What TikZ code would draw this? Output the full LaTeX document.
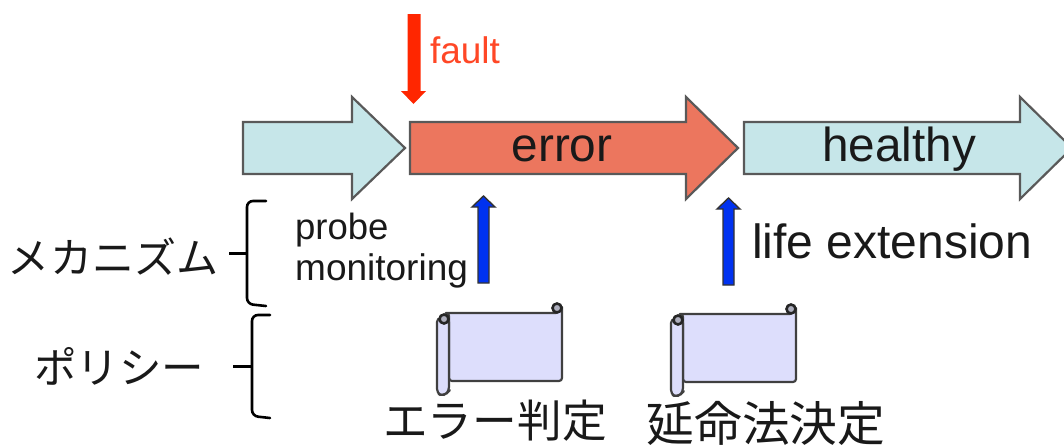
\documentclass[tikz,border=0pt]{standalone}
\usepackage{fontspec}
\setmainfont{Liberation Sans}
\newfontfamily\cjk{Noto Sans CJK JP}
\definecolor{paleblue}{RGB}{198,230,233}
\definecolor{errred}{RGB}{236,118,94}
\definecolor{scroll}{RGB}{221,222,252}
\definecolor{fltred}{RGB}{255,38,0}
\definecolor{probeblue}{RGB}{0,50,240}
\tikzset{
  bigarrow/.style={draw=black!65,line width=2.2pt,line join=miter},
  lab/.style={inner sep=0pt,anchor=base,text=black!90},
  jp/.style={inner sep=0pt,anchor=base,text=black!90},
  brace/.style={draw=black,line width=2.6pt,line cap=round,rounded corners=6pt},
  scrollline/.style={draw=black!75,line width=2.2pt,fill=scroll,line join=round},
}
\newcommand{\scrollshape}[2]{%
  \begin{scope}[shift={(#1,#2)}]
    \draw[scrollline] (0,0) -- (112,0) -- (112,-6) -- (118,-6) -- (118,0) -- (118,62) [rounded corners=3pt] -- (118,68) -- (5,68) -- (5,0) -- cycle;
    \draw[scrollline,rounded corners=4pt] (-7,5) -- (-7,80) -- (-2,83) -- (3,80) -- (5,78) -- (5,5) -- cycle;
    \draw[draw=black!85,fill=scroll!50!gray,line width=2.6pt] (0,6) circle (4.5);
    \draw[draw=black!85,fill=scroll!50!gray,line width=2.6pt] (113,-5) circle (4.5);
  \end{scope}}
\begin{document}
\begin{tikzpicture}[x=1pt,y=-1pt]
\useasboundingbox (0,0) rectangle (1064,447);
\draw[bigarrow,fill=paleblue] (243,122) -- (352,122) -- (352,97) -- (405,148) -- (352,199) -- (352,174) -- (243,174) -- cycle;
\draw[bigarrow,fill=errred] (410,122) -- (686,122) -- (686,97) -- (738,148) -- (686,199) -- (686,174) -- (410,174) -- cycle;
\draw[bigarrow,fill=paleblue] (744,122) -- (1020,122) -- (1020,97) -- (1072,148) -- (1020,199) -- (1020,174) -- (744,174) -- cycle;
\node[lab,font=\fontsize{47.8}{48}\selectfont] (err) at (562,161) {error};
\node[lab,font=\fontsize{47.7}{48}\selectfont] (hea) at (899,161) {healthy};
\fill[fltred] (407.5,14) -- (420.5,14) -- (420.5,91) -- (426,91) -- (413.5,104) -- (401,91) -- (407.5,91) -- cycle;
\node[lab,font=\fontsize{37}{37}\selectfont,text=fltred!85!white] (flt) at (465,63) {fault};
\draw[draw=black!80,line width=1.4pt,fill=probeblue] (478,283) -- (489,283) -- (489,207) -- (495,207) -- (483.5,196) -- (472,207) -- (478,207) -- cycle;
\draw[draw=black!80,line width=1.4pt,fill=probeblue] (723,285) -- (734,285) -- (734,209) -- (740,209) -- (728.5,198) -- (717,209) -- (723,209) -- cycle;
\node[lab,font=\fontsize{36.5}{37}\selectfont,anchor=base west] (pro) at (295,239) {probe};
\node[lab,font=\fontsize{37}{37}\selectfont,anchor=base west] (mon) at (295,280) {monitoring};
\node[lab,font=\fontsize{48}{48}\selectfont,anchor=base west] (lif) at (752,258) {life extension};
\node[jp,font=\cjk\fontsize{42}{42}\selectfont] (mek) at (113,273) {メカニズム};
\node[jp,font=\cjk\fontsize{42.5}{42}\selectfont] (pol) at (119,383) {ポリシー};
\node[jp,font=\cjk\fontsize{44.7}{45}\selectfont] (han) at (495,437) {エラー判定};
\node[jp,font=\cjk\fontsize{47.7}{48}\selectfont] (enm) at (766,441) {延命法決定};
\draw[brace] (266,201) -- (247,201) -- (247,253) (247,253) -- (247,304) -- (266,306);
\draw[draw=black,line width=3pt] (229,253) -- (247,253);
\draw[brace] (270,315) -- (252,315) -- (252,366) (252,366) -- (252,416) -- (270,418);
\draw[draw=black,line width=3pt] (233,366) -- (252,366);
\scrollshape{444}{313}
\scrollshape{678}{314}
\end{tikzpicture}
\end{document}
